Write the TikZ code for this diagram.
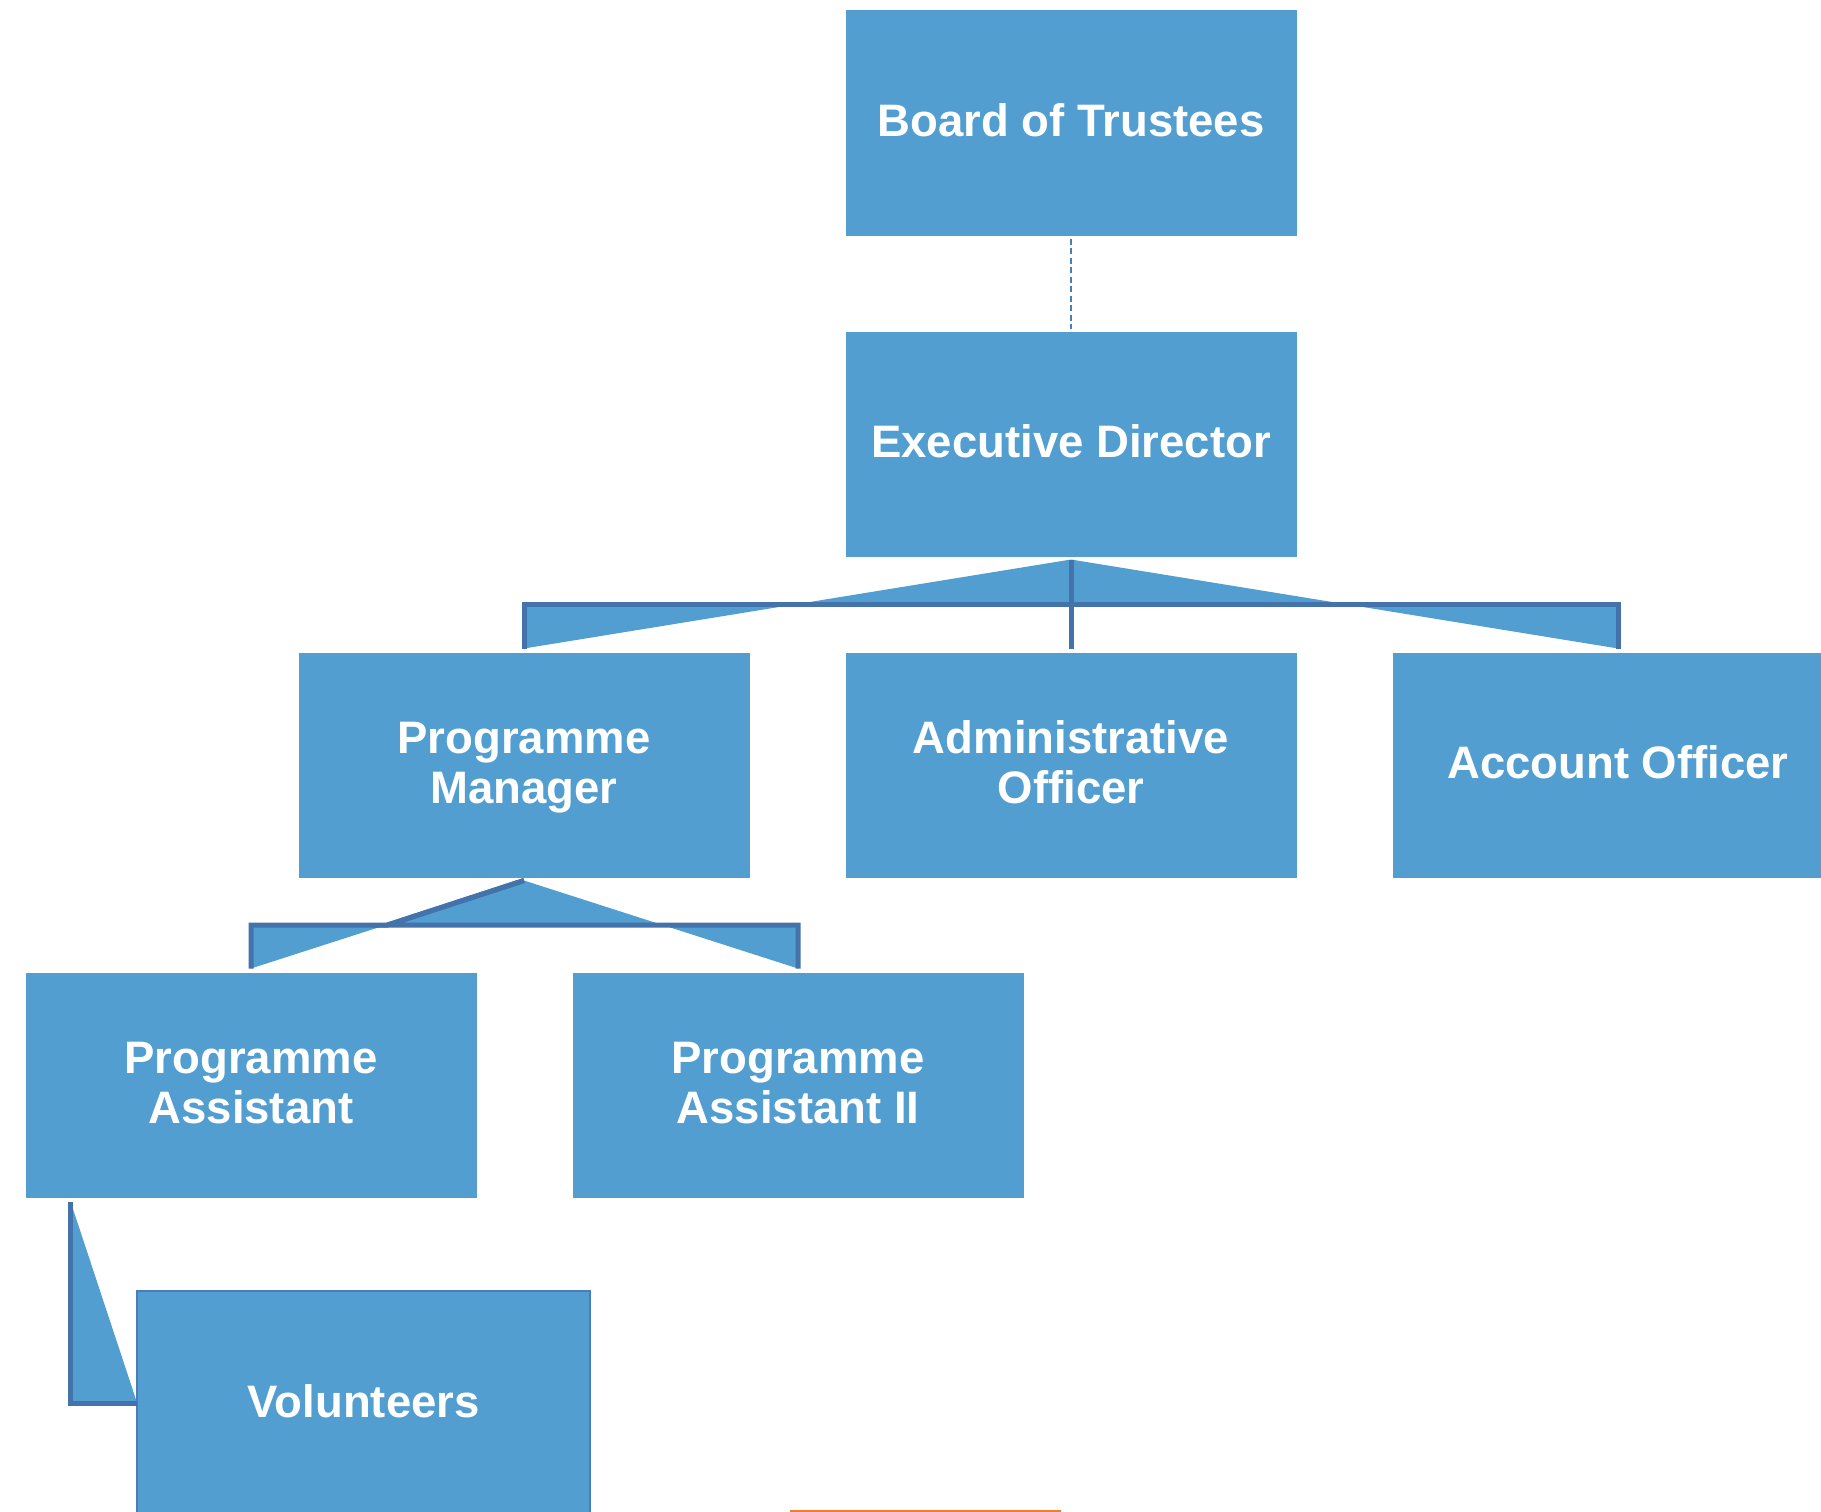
\documentclass[tikz,border=0pt]{standalone}
\usepackage{fontspec}
\setmainfont{Liberation Sans}
\usetikzlibrary{calc}
\definecolor{boxblue}{RGB}{83,158,208}
\definecolor{linkblue}{RGB}{68,114,170}
\definecolor{dashblue}{RGB}{74,126,187}
\definecolor{pageorange}{RGB}{237,125,49}
\newcommand{\lnstrut}{\rule[-10pt]{0pt}{47.5pt}}
\tikzset{
  orgbox/.style={fill=boxblue, minimum width=451pt, minimum height=225pt,
    inner sep=0pt, outer sep=0pt, text=white, align=center,
    font=\bfseries\fontsize{45.5}{50}\selectfont},
  conn/.style={draw=linkblue, line width=5pt, line join=miter, line cap=butt},
  connfill/.style={fill=boxblue},
  dashlink/.style={draw=dashblue, line width=1.8pt, dash pattern=on 6pt off 3.5pt},
  pageline/.style={draw=pageorange, line width=1.5pt}
}
\begin{document}
\begin{tikzpicture}[x=1pt,y=-1pt]
\useasboundingbox (0,0) rectangle (1821,1512);
\clip (0,0) rectangle (1821,1512);

% boxes
\node[orgbox] (BT) at (1071,123) {\lnstrut Board of Trustees};
\node[orgbox] (ED) at (1071,444) {\lnstrut Executive Director};
\node[orgbox] (PM) at (524,765) {\lnstrut Programme\\\lnstrut Manager};
\node[orgbox] (AD) at (1071,765) {\lnstrut Administrative\\\lnstrut Officer};
\node[orgbox] (AC) at (1618,765) {\lnstrut Account Officer};
\node[orgbox] (PA) at (251,1085) {\lnstrut Programme\\\lnstrut Assistant};
\node[orgbox] (PB) at (798,1085) {\lnstrut Programme\\\lnstrut Assistant II};
\node[orgbox, minimum width=453pt, draw=dashblue, line width=2pt] (VO) at (363.8,1403.5) {\lnstrut Volunteers};

% helper coordinates
\coordinate (bts) at ($(BT.south)+(0,3)$);
\coordinate (edn) at ($(ED.north)+(0,-3)$);
\coordinate (eds) at ($(ED.south)+(0,3)$);
\coordinate (edbar) at ($(ED.south)!0.5!(AD.north)$);
\coordinate (pmn) at ($(PM.north)+(0,-4)$);
\coordinate (adn) at ($(AD.north)+(0,-4)$);
\coordinate (acn) at ($(AC.north)+(0,-4)$);
\coordinate (pms) at ($(PM.south)+(0,3)$);
\coordinate (pmbar) at ($(PM.south)!0.5!(PA.north)$);
\coordinate (pan) at ($(PA.north)+(0,-4)$);
\coordinate (pbn) at ($(PB.north)+(0,-4)$);
\coordinate (pas) at ($(PA.south west)+(45,4)$);

% dashed link
\draw[dashlink] (bts) -- (edn);

% filled connector areas
\fill[connfill] (eds) -- (edbar) -| (pmn) -- cycle;
\fill[connfill] (eds) -- (edbar) -| (acn) -- cycle;
\fill[connfill] (pms) -- (pmbar) -| (pan) -- cycle;
\fill[connfill] (pms) -- (pmbar) -| (pbn) -- cycle;
\fill[connfill] (pas) |- (VO.west) -- cycle;

% connector strokes
\draw[conn] (eds) -- (edbar) -| (pmn);
\draw[conn] (eds) -- (edbar) -| (acn);
\draw[conn] (eds) -- (adn);
\draw[conn] (pms) -- (pmbar) -| (pan);
\draw[conn] (pms) -- (pmbar) -| (pbn);
\draw[conn] (pas) |- (VO.west);

% page edge line
\coordinate (oL) at (790,1510.8);
\coordinate (oR) at (1061,1510.8);
\draw[pageline] (oL) -- (oR);
\end{tikzpicture}
\end{document}
